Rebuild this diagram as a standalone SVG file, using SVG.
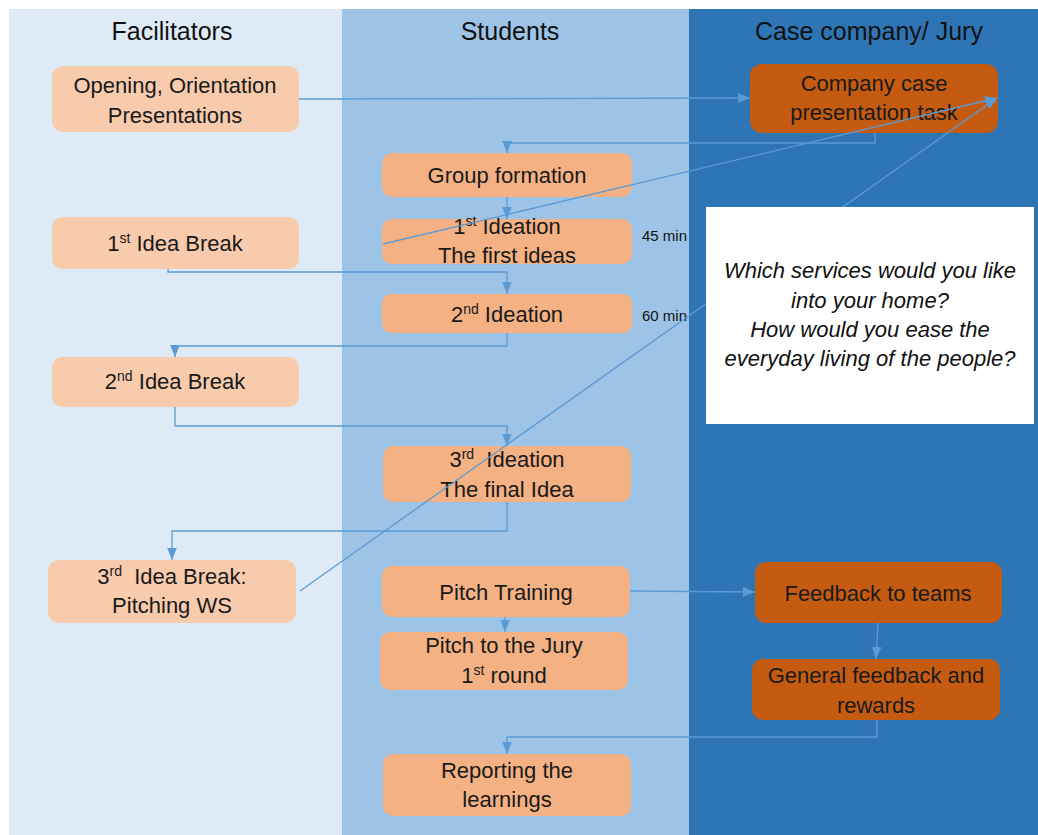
<svg xmlns="http://www.w3.org/2000/svg" width="1038" height="835" viewBox="0 0 1038 835">
<style>
.hdr{font-family:"Liberation Sans",Arial,sans-serif;font-size:25px;fill:#111;text-anchor:middle}
.t{font-family:"Liberation Sans",Arial,sans-serif;font-size:22px;fill:#1a1a1a;text-anchor:middle}
.q{font-family:"Liberation Sans",Arial,sans-serif;font-size:22px;font-style:italic;fill:#111;text-anchor:middle}
.lbl{font-family:"Liberation Sans",Arial,sans-serif;font-size:15px;fill:#111}
.light{fill:#F8CBAD}
.mid{fill:#F4B183}
.dark{fill:#C55A11}
.ca{fill:none;stroke:#5B9BD5;stroke-width:1.3;marker-end:url(#ah)}
</style>
<defs>
<marker id="ah" markerUnits="userSpaceOnUse" markerWidth="12" markerHeight="12" viewBox="0 0 10 10" refX="10" refY="5" orient="auto">
<path d="M0,1 L10,5 L0,9 z" fill="#5B9BD5"/>
</marker>
</defs>
<rect width="1038" height="835" fill="#ffffff"/>
<g id="lanes">
<rect x="9" y="9" width="333" height="826" fill="#DEEBF7"/>
<rect x="342" y="9" width="347" height="826" fill="#9DC3E6"/>
<text class="lbl" x="642" y="241">45 min</text>
<text class="lbl" x="642" y="321">60 min</text>
<rect x="689" y="9" width="349" height="826" fill="#2E75B6"/>
<text class="hdr" x="172" y="40">Facilitators</text>
<text class="hdr" x="510" y="40">Students</text>
<text class="hdr" x="869" y="40">Case company/ Jury</text>
</g>
<g id="n-opening"><rect class="light" x="52" y="66" width="247" height="66" rx="11"/><text class="t" x="175" y="93">Opening, Orientation</text><text class="t" x="175" y="123">Presentations</text></g>
<g id="n-break1"><rect class="light" x="52" y="217" width="247" height="52" rx="10"/><text class="t" x="175" y="251">1<tspan font-size="14" dy="-8">st</tspan><tspan dy="8"> Idea Break</tspan></text></g>
<g id="n-break2"><rect class="light" x="52" y="357" width="247" height="50" rx="10"/><text class="t" x="175" y="389">2<tspan font-size="14" dy="-8">nd</tspan><tspan dy="8"> Idea Break</tspan></text></g>
<g id="n-break3"><rect class="light" x="48" y="560" width="248" height="63" rx="11"/><text class="t" x="172" y="584">3<tspan font-size="14" dy="-8">rd</tspan><tspan dy="8">&#160; Idea Break:</tspan></text><text class="t" x="172" y="613">Pitching WS</text></g>
<g id="n-group"><rect class="mid" x="382" y="153" width="250" height="44" rx="10"/><text class="t" x="507" y="183">Group formation</text></g>
<g id="n-ideation1"><rect class="mid" x="382" y="219" width="250" height="45" rx="10"/><text class="t" x="507" y="234">1<tspan font-size="14" dy="-8">st</tspan><tspan dy="8"> Ideation</tspan></text><text class="t" x="507" y="263">The first ideas</text></g>
<g id="n-ideation2"><rect class="mid" x="382" y="294" width="250" height="39" rx="9"/><text class="t" x="507" y="322">2<tspan font-size="14" dy="-8">nd</tspan><tspan dy="8"> Ideation</tspan></text></g>
<g id="n-ideation3"><rect class="mid" x="383" y="446" width="248" height="56" rx="10"/><text class="t" x="507" y="467">3<tspan font-size="14" dy="-8">rd</tspan><tspan dy="8">&#160; Ideation</tspan></text><text class="t" x="507" y="497">The final Idea</text></g>
<g id="n-pitchtraining"><rect class="mid" x="382" y="566" width="248" height="51" rx="10"/><text class="t" x="506" y="600">Pitch Training</text></g>
<g id="n-pitchjury"><rect class="mid" x="380" y="632" width="248" height="58" rx="10"/><text class="t" x="504" y="653">Pitch to the Jury</text><text class="t" x="504" y="683">1<tspan font-size="14" dy="-8">st</tspan><tspan dy="8"> round</tspan></text></g>
<g id="n-reporting"><rect class="mid" x="383" y="754" width="248" height="62" rx="10"/><text class="t" x="507" y="778">Reporting the</text><text class="t" x="507" y="807">learnings</text></g>
<g id="n-company"><rect class="dark" x="750" y="64" width="248" height="69" rx="12"/><text class="t" x="874" y="91">Company case</text><text class="t" x="874" y="120">presentation task</text></g>
<g id="n-feedback"><rect class="dark" x="755" y="562" width="247" height="61" rx="11"/><text class="t" x="878" y="601">Feedback to teams</text></g>
<g id="n-general"><rect class="dark" x="752" y="659" width="248" height="61" rx="11"/><text class="t" x="876" y="683">General feedback and</text><text class="t" x="876" y="713">rewards</text></g>
<g id="connectors">
<path class="ca" d="M299,99 L750,98"/>
<path class="ca" d="M875,133 V143 H507 V153"/>
<path class="ca" d="M507,197 V219"/>
<path class="ca" d="M383,244 L997,98"/>
<path class="ca" d="M168,269 V272 H507 V294"/>
<path class="ca" d="M507,333 V346 H175 V357"/>
<path class="ca" d="M175,407 V426 H507 V446"/>
<path class="ca" d="M507,502 V531 H172 V560"/>
<path class="ca" d="M300,591 L997,98"/>
<path class="ca" d="M630,591 L755,592"/>
<path class="ca" d="M505,617 V632"/>
<path class="ca" d="M878,623 L876,659"/>
<path class="ca" d="M877,720 V737 H507 V754"/>
</g>
<g id="n-question">
<rect x="706" y="207" width="328" height="217" fill="#ffffff"/>
<text class="q" x="870" y="278">Which services would you like</text>
<text class="q" x="870" y="308">into your home?</text>
<text class="q" x="870" y="337">How would you ease the</text>
<text class="q" x="870" y="366">everyday living of the people?</text>
</g>
</svg>
